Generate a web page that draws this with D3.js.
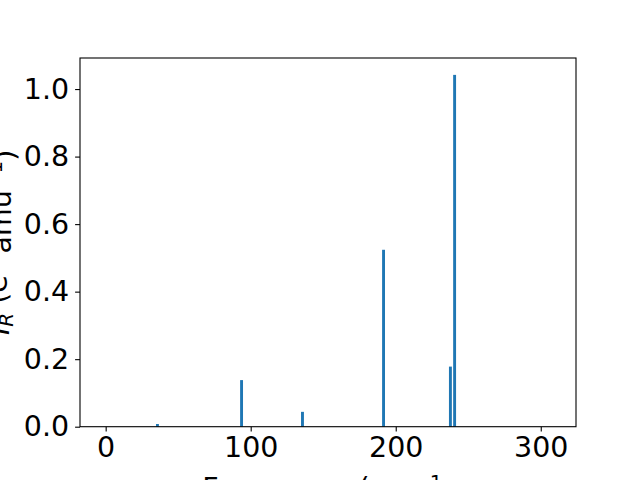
<!DOCTYPE html>
<html>
<head>
<meta charset="utf-8">
<script src="https://cdn.jsdelivr.net/npm/d3@7"></script>
<style>
  html, body { margin: 0; padding: 0; background: #fff; }
  svg { display: block; }
  text { font-family: "DejaVu Sans", sans-serif; }
</style>
</head>
<body>
<svg id="chart" width="640" height="480"></svg>
<script>
const frequencies = [35.7, 93.7, 135.7, 191.6, 237.7, 240.6];
const intensities = [0.008, 0.138, 0.044, 0.524, 0.178, 1.042];
const xTickValues = [0, 100, 200, 300];
const yTickValues = [0.0, 0.2, 0.4, 0.6, 0.8, 1.0];
const xDomain = [-17.7, 324.3];
const yDomain = [0, 1.092];
const barWidth = 2;

(function () {
const svg = d3.select("#chart");
const mLeft = 80, mRight = 576, mTop = 58, mBottom = 426.7;
const fontSize = 28.5;

svg.append("rect").attr("x", 0).attr("y", 0).attr("width", 640).attr("height", 480).attr("fill", "#fff");

const x = d3.scaleLinear().domain(xDomain).range([mLeft, mRight]);
const y = d3.scaleLinear().domain(yDomain).range([mBottom, mTop]);

svg.append("g")
  .selectAll("rect")
  .data(frequencies.map((f, i) => ({f, v: intensities[i]})))
  .join("rect")
  .attr("x", d => x(d.f - barWidth / 2))
  .attr("width", d => x(d.f + barWidth / 2) - x(d.f - barWidth / 2))
  .attr("y", d => y(d.v))
  .attr("height", d => y(0) - y(d.v))
  .attr("fill", "#1f77b4");

const xAxis = svg.append("g")
  .attr("transform", `translate(0,${mBottom})`)
  .call(d3.axisBottom(x).tickValues(xTickValues).tickFormat(d3.format("d")).tickSize(4.9).tickPadding(4.9));
const yAxis = svg.append("g")
  .attr("transform", `translate(${mLeft},0)`)
  .call(d3.axisLeft(y).tickValues(yTickValues).tickFormat(d3.format(".1f")).tickSize(4.9).tickPadding(6));

[xAxis, yAxis].forEach(g => {
  g.select(".domain").remove();
  g.selectAll(".tick line").attr("stroke", "#000").attr("stroke-width", 1.1);
  g.selectAll(".tick text").attr("fill", "#000").style("font-size", fontSize + "px").style("font-family", "DejaVu Sans");
});

svg.append("rect")
  .attr("x", mLeft).attr("y", mTop)
  .attr("width", mRight - mLeft).attr("height", mBottom - mTop)
  .attr("fill", "none").attr("stroke", "#000").attr("stroke-width", 1.1);

// x label
const xl = svg.append("text")
  .attr("x", (mLeft + mRight) / 2)
  .attr("y", 498)
  .attr("text-anchor", "middle")
  .style("font-size", fontSize + "px")
  .attr("fill", "#000");
xl.append("tspan").text("Frequency (cm");
xl.append("tspan").attr("dy", "-0.45em").style("font-size", (fontSize * 0.7) + "px").text("\u22121");
xl.append("tspan").attr("dy", "0.45em").text(")");

// y label
const yl = svg.append("text")
  .attr("transform", `translate(9,${(mTop + mBottom) / 2}) rotate(-90)`)
  .attr("text-anchor", "middle")
  .style("font-size", fontSize + "px")
  .attr("fill", "#000");
yl.append("tspan").style("font-style", "italic").text("I");
yl.append("tspan").style("font-style", "italic").style("font-size", (fontSize * 0.7) + "px").attr("dy", "0.2em").text("R");
yl.append("tspan").attr("dy", "-0.2em").text(" (e");
yl.append("tspan").attr("dy", "-0.45em").style("font-size", (fontSize * 0.7) + "px").text("2");
yl.append("tspan").attr("dy", "0.45em").text(" amu");
yl.append("tspan").attr("dy", "-0.45em").style("font-size", (fontSize * 0.7) + "px").text("\u22121");
yl.append("tspan").attr("dy", "0.45em").text(")");
})();
</script>
</body>
</html>
